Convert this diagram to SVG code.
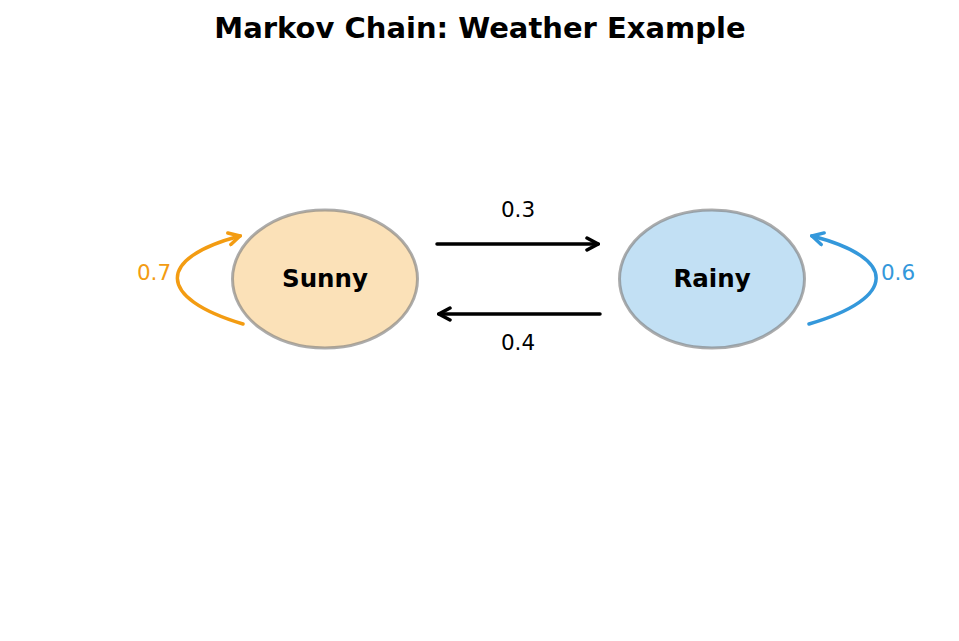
<svg xmlns="http://www.w3.org/2000/svg" width="959" height="641" viewBox="0 0 959 641">
<style>
text{font-family:"DejaVu Sans","Liberation Sans",sans-serif;}
.title{font-size:29px;font-weight:bold;fill:#000;}
.node{stroke:#808080;stroke-opacity:0.65;stroke-width:3;}
.name{font-size:24.5px;font-weight:bold;fill:#000;}
.lbl{font-size:21.5px;}
.edge{fill:none;stroke-width:3.5;stroke-linecap:round;}
</style>
<defs>
<marker id="hk" viewBox="0 0 16 16" refX="14" refY="8" markerWidth="16" markerHeight="16" markerUnits="userSpaceOnUse" orient="auto"><path d="M3,2 L14,8 L3,14" fill="none" stroke="#000" stroke-width="3.5" stroke-linecap="round"/></marker>
<marker id="ho" viewBox="0 0 16 16" refX="14" refY="8" markerWidth="16" markerHeight="16" markerUnits="userSpaceOnUse" orient="auto"><path d="M3,2 L14,8 L3,14" fill="none" stroke="#f39c12" stroke-width="3.5" stroke-linecap="round"/></marker>
<marker id="hb" viewBox="0 0 16 16" refX="14" refY="8" markerWidth="16" markerHeight="16" markerUnits="userSpaceOnUse" orient="auto"><path d="M3,2 L14,8 L3,14" fill="none" stroke="#3498db" stroke-width="3.5" stroke-linecap="round"/></marker>
</defs>
<rect width="959" height="641" fill="#fff"/>
<text class="title" x="480" y="38" text-anchor="middle">Markov Chain: Weather Example</text>
<g id="connectors">
<path class="edge" stroke="#000" d="M437,244 L598,244" marker-end="url(#hk)"/>
<path class="edge" stroke="#000" d="M600,314 L439,314" marker-end="url(#hk)"/>
<path class="edge" stroke="#f39c12" d="M243,324 C156,298 156,258 240,236" marker-end="url(#ho)"/>
<path class="edge" stroke="#3498db" d="M809,324 C898,298 898,258 812,236" marker-end="url(#hb)"/>
<text class="lbl" x="518" y="217" text-anchor="middle" fill="#000">0.3</text>
<text class="lbl" x="518" y="350" text-anchor="middle" fill="#000">0.4</text>
<text class="lbl" x="154" y="280" text-anchor="middle" fill="#f39c12">0.7</text>
<text class="lbl" x="898" y="280" text-anchor="middle" fill="#3498db">0.6</text>
</g>
<g id="sunny">
<ellipse class="node" cx="325" cy="279" rx="92.5" ry="69" fill="#fbe1b8"/>
<text class="name" x="325" y="287" text-anchor="middle">Sunny</text>
</g>
<g id="rainy">
<ellipse class="node" cx="712" cy="279" rx="92.5" ry="69" fill="#c2e0f4"/>
<text class="name" x="712" y="287" text-anchor="middle">Rainy</text>
</g>
</svg>
